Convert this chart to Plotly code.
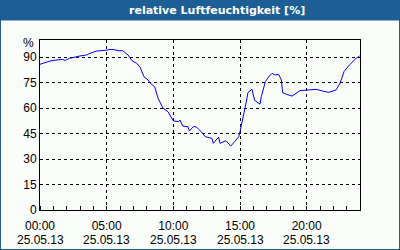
import plotly.graph_objects as go

# ---- data ----
times = ["00:00","00:18","00:45","01:12","01:42","01:54","02:12","03:00","03:30","03:45",
         "04:15","05:00","05:15","05:36","05:51","06:12","06:36","06:54","07:15","07:30",
         "07:48","08:06","08:14","08:36","08:52","09:14","09:36","10:00","10:24","10:30",
         "10:42","11:06","11:12","11:30","11:42","12:06","12:24","12:54","13:00","13:12",
         "13:24","13:30","13:54","14:00","14:18","14:36","14:54","15:00","15:12","15:30",
         "15:36","15:54","16:06","16:30","16:36","16:54","17:12","17:24","17:36","17:54",
         "18:06","18:12","18:30","18:54","19:12","19:30","20:06","20:42","21:12","21:39",
         "22:12","22:30","22:48","23:12","23:42","23:58"]
humidity = [85.7,86.5,87.6,88.2,88.6,88.0,89.2,90.6,91.2,92.2,
            93.5,94.0,94.5,94.3,93.7,93.7,91.2,87.8,86.3,84.0,
            78.4,76.5,74.9,72.5,65.5,59.8,57.8,52.4,52.0,52.9,
            49.4,49.0,46.5,49.0,49.0,46.0,43.1,42.1,39.2,41.2,
            42.7,39.2,40.6,40.4,37.6,40.2,43.1,46.0,52.9,64.7,
            69.2,71.0,64.5,62.2,66.7,75.5,78.8,80.4,79.4,79.8,
            76.5,69.0,68.0,67.0,68.6,70.2,70.6,71.0,70.0,69.2,
            70.6,74.5,81.4,85.3,89.2,90.6]
date = "2013-05-25"
xtick_vals = ["00:00","05:00","10:00","15:00","20:00"]
xtick_dates = ["25.05.13","25.05.13","25.05.13","25.05.13","25.05.13"]
ytick_vals = [0,15,30,45,60,75,90]
title = "relative Luftfeuchtigkeit [%]"

BLUE = "#1d5f95"
BG = "#fbfdfb"
FONT = "Liberation Sans"

x = [f"{date} {t}" for t in times]
tick_x = [f"{date} {t}" for t in xtick_vals]

fig = go.Figure(go.Scatter(x=x, y=humidity, mode="lines",
                           line=dict(color="#0000ff", width=1), hoverinfo="skip"))

W, H = 400, 250
L, R, T, B = 40, 40, 40, 40
pw, ph = W - L - R, H - T - B

def px(X):
    return (X - L) / pw

def py(Y):
    return (H - B - Y) / ph

annotations = [
    dict(text=f"<b>{title}</b>", xref="paper", yref="paper",
         x=px(217), y=py(10.5), xanchor="center", yanchor="middle",
         showarrow=False, font=dict(family="DejaVu Sans", size=11, color="white")),
    dict(text="%", xref="paper", yref="paper",
         x=px(36), y=py(43), xanchor="right", yanchor="middle",
         showarrow=False, font=dict(family=FONT, size=12, color="black")),
]
for tx, d in zip(tick_x, xtick_dates):
    annotations.append(dict(text=d, xref="x", yref="paper", x=tx, y=py(239.5),
                            xanchor="center", yanchor="middle", showarrow=False,
                            font=dict(family=FONT, size=12, color="black")))

fig.update_layout(
    width=W, height=H,
    margin=dict(l=L, r=R, t=T, b=B, autoexpand=False),
    paper_bgcolor=BG, plot_bgcolor=BG,
    showlegend=False,
    font=dict(family=FONT, size=12, color="black"),
    xaxis=dict(
        type="date",
        automargin=False,
        range=[f"{date} 00:00", "2013-05-26 00:00"],
        tickvals=tick_x,
        ticktext=xtick_vals,
        tickfont=dict(family=FONT, size=12, color="black"),
        ticklabelstandoff=5,
        showgrid=True, gridcolor="black", griddash="3px,3px", gridwidth=1,
        showline=True, linecolor="black", linewidth=1, mirror=True,
        ticks="", zeroline=False,
        minor=dict(dtick=3600000, ticks="inside", ticklen=4, tickcolor="black",
                   tickwidth=1, showgrid=False),
    ),
    yaxis=dict(
        range=[0, 100],
        automargin=False,
        tickvals=ytick_vals,
        tickfont=dict(family=FONT, size=12, color="black"),
        showgrid=True, gridcolor="black", griddash="3px,3px", gridwidth=1,
        showline=True, linecolor="black", linewidth=1, mirror=True,
        ticks="", zeroline=False,
    ),
    shapes=[
        dict(type="rect", xref="paper", yref="paper",
             x0=px(0), x1=px(W), y0=py(20.5), y1=py(0),
             fillcolor=BLUE, line=dict(width=0), layer="above"),
        dict(type="rect", xref="paper", yref="paper",
             x0=px(0), x1=px(W), y0=py(H), y1=py(0),
             fillcolor="rgba(0,0,0,0)", line=dict(color=BLUE, width=2), layer="above"),
    ],
    annotations=annotations,
)

fig.write_html("out.html")
